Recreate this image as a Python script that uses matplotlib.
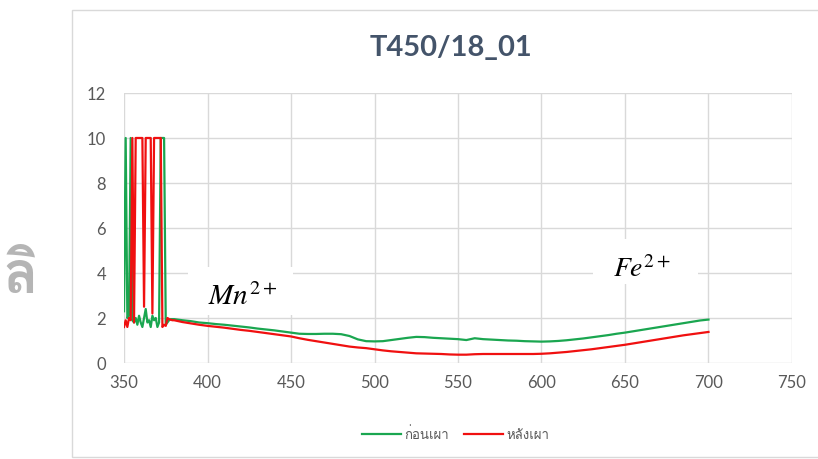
import matplotlib
matplotlib.use("Agg")
import matplotlib.pyplot as plt
from matplotlib import font_manager as fm
from matplotlib.ft2font import FT2Font
from matplotlib.patches import Rectangle

# ---- data -------------------------------------------------------------
title = "T450/18_01"
series_names = ["ก่อนเผา", "หลังเผา"]

# 350-379 nm sampled every 1 nm (detector saturates at 10 here)
wl_uv = list(range(350, 380))
before_uv = [2.3, 10, 2.0, 2.1, 10, 1.9, 1.8, 2.0, 1.7, 2.1,
             1.8, 1.6, 2.0, 2.4, 1.8, 1.9, 1.6, 2.1, 1.9, 2.0,
             1.6, 1.8, 10, 10, 10, 1.7, 1.8, 1.9, 1.95, 1.95]
after_uv = [1.6, 1.9, 1.6, 2.0, 1.9, 10, 1.8, 10, 10, 10,
            10, 10, 2.5, 10, 10, 10, 10, 2.2, 10, 10,
            10, 10, 10, 1.6, 1.7, 1.65, 2.0, 1.95, 1.92, 1.9]

# 380-700 nm sampled every 5 nm
wl_vis = list(range(380, 705, 5))
before_vis = [1.95, 1.90, 1.86, 1.80, 1.77, 1.73, 1.70, 1.66, 1.62, 1.58,
              1.53, 1.49, 1.45, 1.40, 1.35, 1.30, 1.29, 1.29, 1.30, 1.30,
              1.28, 1.20, 1.05, 0.97, 0.96, 0.97, 1.02, 1.07, 1.12, 1.16,
              1.15, 1.12, 1.10, 1.08, 1.06, 1.02, 1.10, 1.06, 1.04, 1.02,
              1.00, 0.99, 0.97, 0.96, 0.95, 0.96, 0.98, 1.01, 1.05, 1.09,
              1.14, 1.19, 1.24, 1.30, 1.35, 1.41, 1.47, 1.53, 1.59, 1.65,
              1.71, 1.77, 1.83, 1.89, 1.93]
after_vis = [1.90, 1.82, 1.76, 1.70, 1.65, 1.61, 1.57, 1.52, 1.47, 1.43,
             1.38, 1.33, 1.28, 1.23, 1.18, 1.10, 1.03, 0.97, 0.91, 0.85,
             0.79, 0.73, 0.69, 0.66, 0.61, 0.56, 0.52, 0.49, 0.46, 0.43,
             0.42, 0.41, 0.40, 0.38, 0.37, 0.37, 0.39, 0.40, 0.40, 0.40,
             0.40, 0.40, 0.40, 0.40, 0.41, 0.43, 0.46, 0.49, 0.53, 0.57,
             0.61, 0.66, 0.71, 0.76, 0.81, 0.87, 0.93, 0.99, 1.05, 1.11,
             1.17, 1.23, 1.28, 1.33, 1.38]

x_ticks = [350, 400, 450, 500, 550, 600, 650, 700, 750]
y_ticks = [0, 2, 4, 6, 8, 10, 12]

annotations = [r"$Mn^{2+}$", r"$Fe^{2+}$"]

# ---- fonts ------------------------------------------------------------
def family_with(codepoint):
    for f in fm.fontManager.ttflist:
        try:
            if codepoint in FT2Font(f.fname).get_charmap():
                return f.name
        except Exception:
            continue
    return None

thai = family_with(0x0E01)
base_families = ["Lato", "DejaVu Sans"]
thai_families = ([thai] if thai else []) + ["DejaVu Sans"]
plt.rcParams["font.family"] = base_families
plt.rcParams["mathtext.fontset"] = "stix"

GRID = "#d9d9d9"
TICK = "#595959"
GREEN = "#1aa650"
RED = "#f01010"

fig = plt.figure(figsize=(8.18, 4.6), dpi=100)
fig.patch.set_facecolor("white")

# chart frame
frame = Rectangle((0.088, 0.004), 0.95, 0.972, transform=fig.transFigure,
                  facecolor="white", edgecolor=GRID, lw=1.0, zorder=-5)
fig.add_artist(frame)
# page text peeking out from behind the chart
fig.text(0.004, 0.338, "ลิ", family=thai_families, fontsize=42, fontweight="bold",
         color="#b5b5b5", ha="left", va="bottom", zorder=-6)

ax = fig.add_axes([0.1516, 0.2087, 0.9682 - 0.1516, 0.7957 - 0.2087])
ax.set_zorder(2)
ax.set_facecolor("none")
ax.set_xlim(350, 750)
ax.set_ylim(0, 12)
ax.set_xticks(x_ticks)
ax.set_yticks(y_ticks)
ax.grid(True, color=GRID, lw=1.0)
ax.set_axisbelow(True)
for s in ax.spines.values():
    s.set_visible(False)
ax.tick_params(length=0, labelsize=12, labelcolor=TICK)
ax.tick_params(axis="y", pad=13)
ax.tick_params(axis="x", pad=8)

wl = wl_uv + wl_vis
before = before_uv + before_vis
after = after_uv + after_vis
l1, = ax.plot(wl, before, color=GREEN, lw=1.6, label=series_names[0], zorder=3)
l2, = ax.plot(wl, after, color=RED, lw=1.6, label=series_names[1], zorder=4)

# white label boxes for the ion annotations
ax.add_patch(Rectangle((388.4, 2.13), 63.0, 2.14, facecolor="white", edgecolor="none", zorder=2))
ax.add_patch(Rectangle((630.9, 3.51), 63.0, 2.0, facecolor="white", edgecolor="none", zorder=2))
ax.text(400.4, 2.6, annotations[0], fontsize=21, color="black", ha="left", va="baseline", zorder=5)
ax.text(643.0, 3.85, annotations[1], fontsize=20, color="black", ha="left", va="baseline", zorder=5)

fig.text(0.551, 0.895, title, ha="center", va="center", fontsize=21, fontweight="bold",
         color="#44546a")

leg = fig.legend(handles=[l1, l2], loc="center", bbox_to_anchor=(0.557, 0.055), ncol=2,
                 frameon=False, handlelength=3.0, handletextpad=0.25, columnspacing=1.1,
                 prop=fm.FontProperties(family=thai_families, size=9.5))
for t in leg.get_texts():
    t.set_color(TICK)

fig.savefig("out.png", dpi=100, facecolor="white")
